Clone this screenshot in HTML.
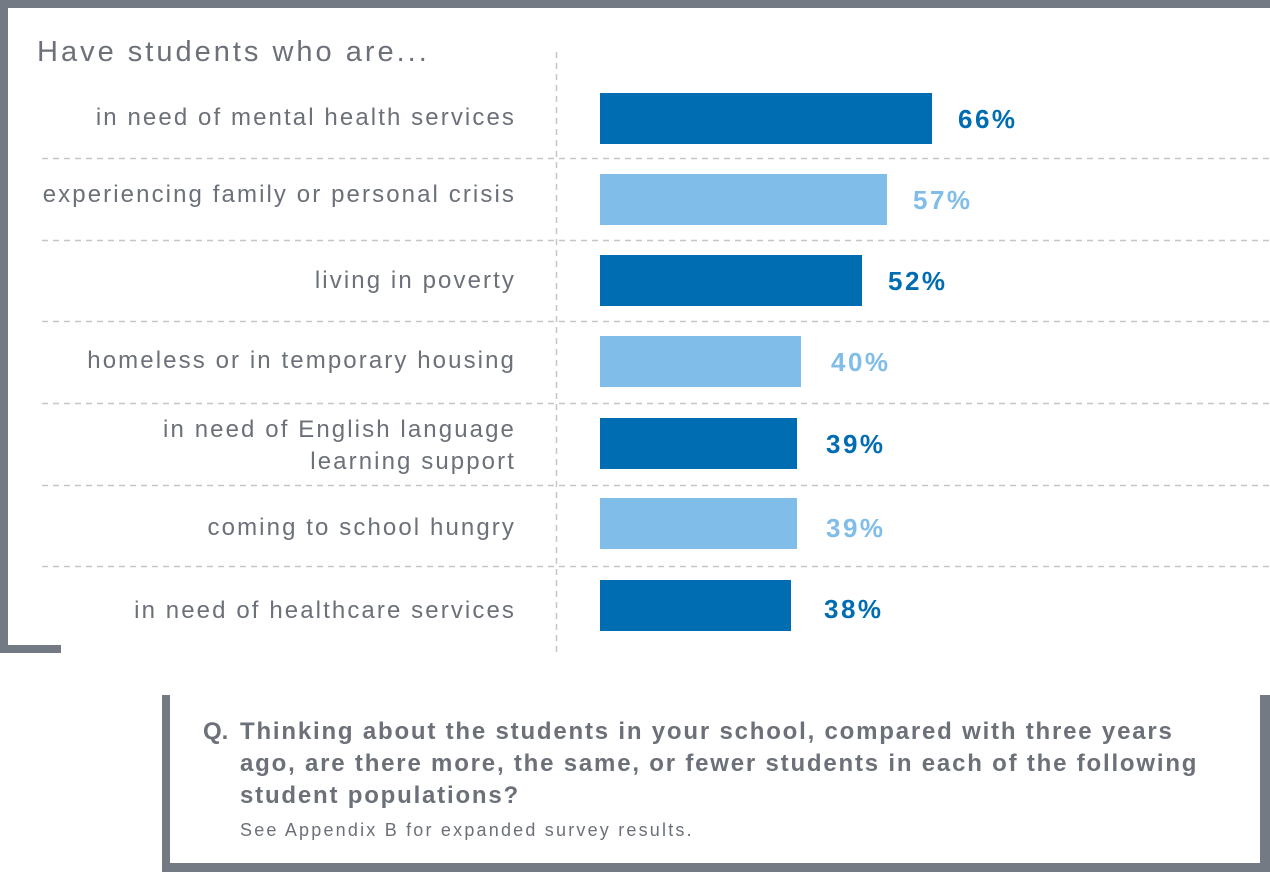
<!DOCTYPE html>
<html><head><style>
body{margin:0;width:1270px;height:872px;background:#fff;position:relative;overflow:hidden;font-family:"Liberation Sans",sans-serif;color:#6b7079}
.b{position:absolute;background:#737a83}
.lab{position:absolute;right:754px;text-align:right;font-size:24px;letter-spacing:2.1px;line-height:32px;color:#6b7079;white-space:nowrap}
.bar{position:absolute;left:600px;height:51px}
.v{position:absolute;font-size:26px;letter-spacing:2.5px;font-weight:bold}
</style></head><body>
<div class="b" style="left:0;top:0;width:1270px;height:8px"></div>
<div class="b" style="left:0;top:0;width:8px;height:653px"></div>
<div class="b" style="left:0;top:645px;width:61px;height:8px"></div>
<div class="b" style="left:162px;top:695px;width:8px;height:177px"></div>
<div class="b" style="left:162px;top:863px;width:1108px;height:9px"></div>
<div class="b" style="left:1260px;top:695px;width:10px;height:177px"></div>
<svg style="position:absolute;left:0;top:0" width="1270" height="872">
<g stroke="#c4c6c9" stroke-width="1.5" stroke-dasharray="6,5">
<line x1="556.5" y1="52" x2="556.5" y2="652"/>
<line x1="42" y1="158.5" x2="1270" y2="158.5"/>
<line x1="42" y1="240.5" x2="1270" y2="240.5"/>
<line x1="42" y1="321.5" x2="1270" y2="321.5"/>
<line x1="42" y1="403.5" x2="1270" y2="403.5"/>
<line x1="42" y1="485.5" x2="1270" y2="485.5"/>
<line x1="42" y1="566.5" x2="1270" y2="566.5"/>
</g></svg>
<div style="position:absolute;left:37px;top:36px;font-size:29px;letter-spacing:3px;color:#6b7079">Have students who are...</div>
<div class="lab" style="top:102px">in need of mental health services</div>
<div class="lab" style="top:179px">experiencing family or personal crisis</div>
<div class="lab" style="top:265px">living in poverty</div>
<div class="lab" style="top:345px">homeless or in temporary housing</div>
<div class="lab" style="top:414px">in need of English language<br>learning support</div>
<div class="lab" style="top:512px">coming to school hungry</div>
<div class="lab" style="top:595px">in need of healthcare services</div>
<div class="bar" style="top:93px;width:332px;background:#006db3"></div>
<div class="bar" style="top:174px;width:287px;background:#80bde8"></div>
<div class="bar" style="top:255px;width:262px;background:#006db3"></div>
<div class="bar" style="top:336px;width:201px;background:#80bde8"></div>
<div class="bar" style="top:418px;width:197px;background:#006db3"></div>
<div class="bar" style="top:498px;width:197px;background:#80bde8"></div>
<div class="bar" style="top:580px;width:191px;background:#006db3"></div>
<div class="v" style="left:958px;top:104px;color:#006db3">66%</div>
<div class="v" style="left:913px;top:185px;color:#80bde8">57%</div>
<div class="v" style="left:888px;top:266px;color:#006db3">52%</div>
<div class="v" style="left:831px;top:347px;color:#80bde8">40%</div>
<div class="v" style="left:826px;top:429px;color:#006db3">39%</div>
<div class="v" style="left:826px;top:513px;color:#80bde8">39%</div>
<div class="v" style="left:824px;top:594px;color:#006db3">38%</div>
<div style="position:absolute;left:203px;top:716px;font-size:24px;font-weight:bold;line-height:32px;color:#6b7079">Q.</div>
<div style="position:absolute;left:240px;top:716px;width:1010px;font-size:24px;letter-spacing:1.8px;font-weight:bold;line-height:32px;color:#6b7079;white-space:nowrap">Thinking about the students in your school, compared with three years<br>ago, are there more, the same, or fewer students in each of the following<br>student populations?</div>
<div style="position:absolute;left:240px;top:820px;font-size:18px;letter-spacing:2.2px;color:#6b7079">See Appendix B for expanded survey results.</div>
</body></html>
